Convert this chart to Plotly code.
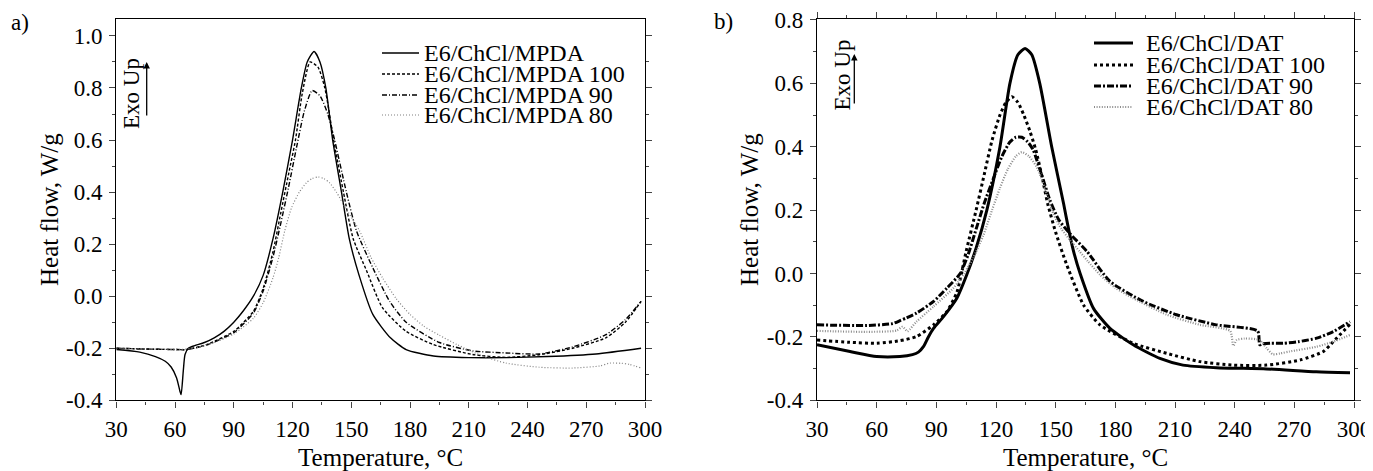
import plotly.graph_objects as go

# the page body keeps its default 8px margin, so the figure is laid out in page pixels minus that
OFF = 8
W, H = 1373 - OFF, 471 - OFF

# ---- panel a): E6/ChCl/MPDA, heat flow (W/g) vs temperature (C)
a_neat_t = [30, 42, 50, 55, 58, 60.8, 62.5, 63.1, 64.2, 65.1, 66.8, 70, 75, 80, 85, 90, 95, 100, 105, 110,
            115, 120, 124.5, 127.5, 131, 134, 137, 140.5, 145, 149, 154, 161, 170, 178, 192, 210, 230, 250, 275, 298]
a_neat_hf = [-0.205, -0.215, -0.232, -0.25, -0.272, -0.314, -0.365, -0.378, -0.288, -0.224, -0.2, -0.19, -0.178,
             -0.16, -0.135, -0.1, -0.055, 0.0, 0.08, 0.22, 0.4, 0.6, 0.8, 0.9, 0.94, 0.9, 0.8, 0.6, 0.4, 0.22,
             0.08, -0.07, -0.16, -0.205, -0.23, -0.236, -0.236, -0.232, -0.222, -0.2]

a_100_t = [30, 45, 60, 66, 76, 90, 100, 105, 110, 114, 118, 121.5, 125, 129, 133, 136.5, 141, 146, 151, 157.7,
           166, 178, 192, 212, 229, 246, 263, 280, 290, 298]
a_100_hf = [-0.2, -0.203, -0.205, -0.205, -0.186, -0.135, -0.058, 0.03, 0.17, 0.32, 0.47, 0.6, 0.78, 0.9, 0.88,
            0.8, 0.6, 0.4, 0.22, 0.1, -0.045, -0.135, -0.186, -0.224, -0.235, -0.225, -0.2, -0.16, -0.1, -0.02]

a_90_t = [30, 45, 60, 66, 76, 90, 100, 105, 110, 114, 118, 122, 126, 130, 134, 138, 141.5, 147.5, 152.7, 161,
          169.6, 178, 195, 212, 229, 246, 263, 280, 290, 298]
a_90_hf = [-0.2, -0.203, -0.205, -0.205, -0.188, -0.14, -0.065, 0.02, 0.15, 0.28, 0.42, 0.57, 0.71, 0.79, 0.77,
           0.7, 0.6, 0.4, 0.25, 0.109, -0.02, -0.1, -0.178, -0.21, -0.218, -0.222, -0.195, -0.148, -0.09, -0.02]

a_80_t = [30, 45, 60, 70, 80, 90, 100, 105, 110, 113, 116, 119.5, 123.5, 127, 130, 133, 136, 139, 142.4, 147,
          154.3, 160, 166, 173, 180, 187, 195, 204, 217, 229, 246, 263, 277, 282, 288, 292, 298]
a_80_hf = [-0.2, -0.202, -0.205, -0.2, -0.178, -0.145, -0.085, -0.025, 0.07, 0.15, 0.25, 0.34, 0.4, 0.435, 0.452,
           0.458, 0.452, 0.435, 0.4, 0.34, 0.25, 0.15, 0.07, -0.01, -0.07, -0.115, -0.15, -0.186, -0.23, -0.257,
           -0.273, -0.276, -0.268, -0.257, -0.258, -0.262, -0.276]

# ---- panel b): E6/ChCl/DAT
b_neat_t = [30, 46.6, 60, 71.7, 78, 81, 83.5, 86, 88.6, 93.6, 100.3, 105.3, 110, 115.4, 122, 127, 131, 134.6,
            138, 142, 148, 154, 156.5, 159, 162.3, 169, 177.3, 189, 202.4, 214, 230.8, 256, 281, 298]
b_neat_hf = [-0.225, -0.246, -0.262, -0.262, -0.256, -0.248, -0.231, -0.2, -0.173, -0.136, -0.078, -0.004, 0.08,
             0.2, 0.4, 0.6, 0.69, 0.71, 0.69, 0.6, 0.4, 0.22, 0.14, 0.07, 0.0, -0.11, -0.173, -0.225, -0.268,
             -0.289, -0.297, -0.301, -0.31, -0.313]

b_100_t = [30, 46.6, 60, 71.7, 80, 88.6, 95.3, 100.3, 105, 110, 114, 118, 122, 125, 128, 131, 134, 137, 140, 143,
           146, 150, 155.6, 164, 172.3, 189, 205.9, 222.6, 239.4, 256, 272.9, 284.6, 289.6, 298]
b_100_hf = [-0.21, -0.217, -0.22, -0.212, -0.199, -0.162, -0.12, -0.06, 0.07, 0.2, 0.31, 0.42, 0.5, 0.54, 0.558,
            0.54, 0.5, 0.45, 0.39, 0.31, 0.22, 0.13, 0.027, -0.099, -0.162, -0.22, -0.252, -0.278, -0.289, -0.289,
            -0.273, -0.246, -0.215, -0.16]

b_90_t = [30, 55, 68, 72, 75, 80, 88.6, 95.3, 102, 106, 110, 114, 118.7, 123, 127, 130, 133, 136, 138.7, 143,
          147.2, 151.5, 157.3, 165.7, 177.3, 194, 210.8, 230.8, 251.5, 252.6, 254, 258, 264.4, 272, 281.2, 289.6, 298]
b_90_hf = [-0.162, -0.164, -0.158, -0.148, -0.14, -0.125, -0.088, -0.046, 0.0, 0.06, 0.14, 0.22, 0.3, 0.37, 0.415,
           0.43, 0.43, 0.415, 0.39, 0.31, 0.23, 0.17, 0.125, 0.07, -0.025, -0.088, -0.13, -0.162, -0.181, -0.225,
           -0.222, -0.22, -0.22, -0.215, -0.204, -0.183, -0.152]

b_80_t = [30, 55, 70, 73, 75.5, 80, 88.6, 98.6, 104, 108.6, 113.6, 118, 122, 126, 130, 133, 136.5, 140.5, 144.5,
          148.9, 153, 157.3, 162, 166, 172.3, 180, 189, 205.9, 222.6, 237.7, 239.3, 241, 245, 252.6, 256, 259.2,
          263, 267.6, 281.2, 289.6, 298]
b_80_hf = [-0.181, -0.184, -0.18, -0.168, -0.182, -0.152, -0.104, -0.046, 0.0, 0.05, 0.12, 0.2, 0.27, 0.33, 0.37,
           0.383, 0.37, 0.336, 0.27, 0.188, 0.14, 0.105, 0.07, 0.04, -0.004, -0.045, -0.078, -0.13, -0.162, -0.181,
           -0.228, -0.21, -0.205, -0.21, -0.235, -0.255, -0.252, -0.246, -0.231, -0.215, -0.194]

a_names = ["E6/ChCl/MPDA", "E6/ChCl/MPDA 100", "E6/ChCl/MPDA 90", "E6/ChCl/MPDA 80"]
b_names = ["E6/ChCl/DAT", "E6/ChCl/DAT 100", "E6/ChCl/DAT 90", "E6/ChCl/DAT 80"]

x_ticks = [30, 60, 90, 120, 150, 180, 210, 240, 270, 300]
a_y_ticks = [-0.4, -0.2, 0.0, 0.2, 0.4, 0.6, 0.8, 1.0]
b_y_ticks = [-0.4, -0.2, 0.0, 0.2, 0.4, 0.6, 0.8]

FONT = "Liberation Serif"

# line styles (colour, width, dash) for thin panel a) and bold panel b)
a_styles = [("black", 1.4, "solid"), ("black", 1.4, "3px,2px"),
            ("black", 1.4, "5px,2px,1px,2px"), ("#808080", 1.2, "1px,2px")]
b_styles = [("black", 3, "solid"), ("black", 3, "3px,3px"),
            ("black", 3, "7px,2px,2px,2px"), ("#8c8c8c", 2.2, "1px,1.6px")]


def px(x):
    # page pixel -> paper fraction
    return (x - OFF) / W


def py(y):
    return 1 - (y - OFF) / H


fig = go.Figure()

a_data = [(a_neat_t, a_neat_hf), (a_100_t, a_100_hf), (a_90_t, a_90_hf), (a_80_t, a_80_hf)]
b_data = [(b_neat_t, b_neat_hf), (b_100_t, b_100_hf), (b_90_t, b_90_hf), (b_80_t, b_80_hf)]

for (t, hf), name, (c, w, d) in zip(a_data, a_names, a_styles):
    fig.add_trace(go.Scatter(x=t, y=hf, name=name, mode="lines", showlegend=False,
                             line=dict(color=c, width=w, dash=d, shape="spline", smoothing=0.6),
                             xaxis="x", yaxis="y"))
for (t, hf), name, (c, w, d) in zip(b_data, b_names, b_styles):
    fig.add_trace(go.Scatter(x=t, y=hf, name=name, mode="lines", showlegend=False,
                             line=dict(color=c, width=w, dash=d, shape="spline", smoothing=0.6),
                             xaxis="x2", yaxis="y2"))

tickfont = dict(family=FONT, size=23, color="black")
titlefont = dict(family=FONT, size=25, color="black")
ydom = [py(400.3), py(19)]


def xaxis(dom, mirror, anchor):
    return dict(domain=dom, range=[30, 300], tickvals=x_ticks, anchor=anchor, automargin=False,
                ticks="outside", ticklen=6, tickwidth=1.3, ticklabeloverflow="allow",
                minor=dict(dtick=15, tick0=30, ticks="outside", ticklen=3, tickwidth=1.1),
                showline=True, linecolor="black", linewidth=1.4, mirror=mirror, showgrid=False,
                zeroline=False, tickfont=tickfont, ticklabelstandoff=2,
                title=dict(text="Temperature, °C", font=titlefont, standoff=8))


def yaxis(rng, ticks, anchor, standoff):
    return dict(domain=ydom, range=rng, tickvals=ticks, ticktext=["%.1f" % v for v in ticks], anchor=anchor,
                automargin=False, ticks="outside", ticklen=6, tickwidth=1.3,
                minor=dict(dtick=0.1, ticks="outside", ticklen=3, tickwidth=1.1),
                showline=True, linecolor="black", linewidth=1.4, mirror="allticks", showgrid=False,
                zeroline=False, tickfont=tickfont, ticklabelstandoff=2,
                title=dict(text="Heat flow, W/g", font=titlefont, standoff=standoff))


lab = dict(family=FONT, size=23, color="black")
annotations = [
    dict(text="a)", x=px(20), y=py(23), xref="paper", yref="paper", showarrow=False, font=lab,
         xanchor="center", yanchor="middle"),
    dict(text="b)", x=px(723), y=py(22), xref="paper", yref="paper", showarrow=False, font=lab,
         xanchor="center", yanchor="middle"),
    dict(text="Exo Up", textangle=-90, x=px(132), y=py(94), xref="paper", yref="paper", showarrow=False,
         font=lab, xanchor="center", yanchor="middle"),
    dict(text="Exo Up", textangle=-90, x=px(842), y=py(75.5), xref="paper", yref="paper", showarrow=False,
         font=lab, xanchor="center", yanchor="middle"),
    dict(text="", x=px(146.7), y=py(62), xref="paper", yref="paper", showarrow=True, ax=0, ay=55,
         arrowhead=2, arrowsize=1, arrowwidth=1.3, arrowcolor="black"),
    dict(text="", x=px(854.3), y=py(54), xref="paper", yref="paper", showarrow=True, ax=0, ay=51,
         arrowhead=2, arrowsize=1, arrowwidth=1.3, arrowcolor="black"),
]

# hand-placed legends (tight row spacing as in the original)
shapes = []
a_rows = [53, 74, 95, 115]
b_rows = [43, 65, 86, 107]
leg = dict(family=FONT, size=24, color="black")
for name, row, (c, w, d) in zip(a_names, a_rows, a_styles):
    shapes.append(dict(type="line", xref="paper", yref="paper", x0=px(382), x1=px(419), y0=py(row), y1=py(row),
                       line=dict(color=c, width=w, dash=d)))
    annotations.append(dict(text=name, x=px(422), y=py(row), xref="paper", yref="paper", showarrow=False,
                            xanchor="left", yanchor="middle", font=leg))
for name, row, (c, w, d) in zip(b_names, b_rows, b_styles):
    shapes.append(dict(type="line", xref="paper", yref="paper", x0=px(1094), x1=px(1133), y0=py(row), y1=py(row),
                       line=dict(color=c, width=w, dash=d)))
    annotations.append(dict(text=name, x=px(1144), y=py(row), xref="paper", yref="paper", showarrow=False,
                            xanchor="left", yanchor="middle", font=leg))

fig.update_layout(
    width=W, height=H,
    margin=dict(l=0, r=0, t=0, b=0, pad=0, autoexpand=False),
    paper_bgcolor="white", plot_bgcolor="white",
    xaxis=xaxis([px(116.3), px(645)], True, "y"),
    yaxis=yaxis([-0.4, 1.065], a_y_ticks, "x", 0),
    xaxis2=xaxis([px(817), px(1354)], "allticks", "y2"),
    yaxis2=yaxis([-0.4, 0.803], b_y_ticks, "x2", 1),
    annotations=annotations,
    shapes=shapes,
    showlegend=False,
)

fig.write_html("out.html")
